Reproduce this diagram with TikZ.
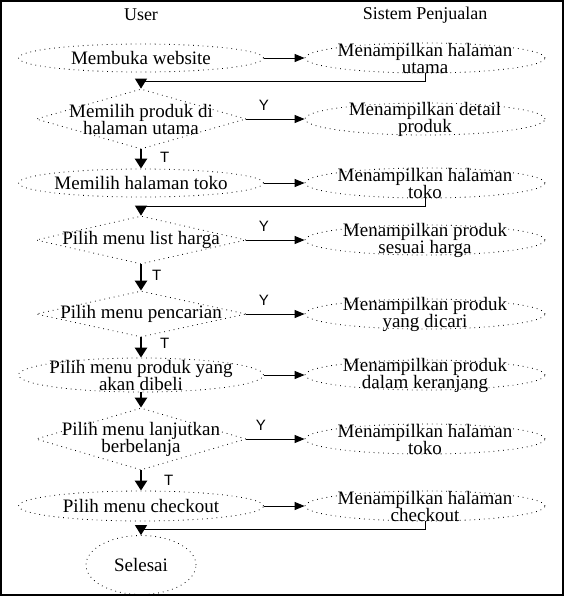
\documentclass[tikz,border=0pt]{standalone}
\usepackage{fontspec}
\setmainfont{Liberation Serif}
\newfontfamily\yesnofont{Liberation Sans}
\usetikzlibrary{shapes.geometric}
\usetikzlibrary{arrows.meta}
\newcommand{\tightlines}{\fontsize{9.5}{8.5}\selectfont\lineskiplimit=-20pt\relax}
\tikzset{txt/.style={font=\tightlines, align=center}}
\tikzset{proc/.style={txt, draw, dotted, ellipse, inner sep=-30pt, minimum width=122.5pt, minimum height=14pt}}
\tikzset{rproc/.style={proc, minimum width=120pt, minimum height=15pt}}
\tikzset{decide/.style={txt, draw, dotted, diamond, inner sep=-30pt, minimum width=105pt, minimum height=24pt}}
\tikzset{term/.style={txt, draw, dotted, ellipse, inner sep=-30pt, minimum width=55pt, minimum height=29.5pt}}
\tikzset{head/.style={font=\fontsize{9}{10}\selectfont}}
\tikzset{lbl/.style={font=\yesnofont\fontsize{7.5}{8}\selectfont, inner sep=1pt}}
\tikzset{hor/.style={line width=0.5pt, -{Triangle[length=5pt, width=4pt]}}}
\tikzset{ver/.style={line width=1.2pt, -{Triangle[length=5pt, width=6pt]}}}
\tikzset{back/.style={line width=0.5pt, -{Triangle[length=5pt, width=6pt]}}}

\begin{document}
\begin{tikzpicture}[x=0.5pt, y=-0.5pt]
    \useasboundingbox (0, 0) rectangle (564, 596);
    \draw [line width=1pt] (1, 1) rectangle (563, 595);

    \node [head] (user) at (141, 15) {User};
    \node [head] (sistem) at (425, 15) {Sistem Penjualan};

    \node [proc] (web) at (141, 58) {Membuka website};
    \node [rproc] (utama) at (425, 58) {Menampilkan halaman\\utama};

    \node [decide, minimum height=30pt] (pilihproduk) at (141, 119) {Memilih produk di\\halaman utama};
    \node [rproc, minimum height=16pt] (detail) at (425, 119) {Menampilkan detail\\produk};

    \node [proc] (toko) at (141, 183) {Memilih halaman toko};
    \node [rproc] (haltoko) at (425, 183) {Menampilkan halaman\\toko};

    \node [decide, minimum height=24pt] (harga) at (141, 240) {Pilih menu list harga};
    \node [rproc] (sesuai) at (425, 240) {Menampilkan produk\\sesuai harga};

    \node [decide, minimum height=23pt] (cari) at (141, 314) {Pilih menu pencarian};
    \node [rproc] (dicari) at (425, 314) {Menampilkan produk\\yang dicari};

    \node [proc, minimum height=17pt] (beli) at (141, 375) {Pilih menu produk yang\\akan dibeli};
    \node [rproc] (keranjang) at (425, 375) {Menampilkan produk\\dalam keranjang};

    \node [decide, minimum height=31pt] (lanjut) at (141, 439) {Pilih menu lanjutkan\\berbelanja};
    \node [rproc] (toko2) at (425, 439) {Menampilkan halaman\\toko};

    \node [proc, minimum height=15pt] (checkout) at (141, 506) {Pilih menu checkout};
    \node [rproc] (halcheckout) at (425, 506) {Menampilkan halaman\\checkout};

    \node [term] (selesai) at (141, 565) {Selesai};

    \draw [hor] (web.east) -- (utama.west);
    \draw [back] (utama.south) -- ++(0, 8) -| (pilihproduk.north);
    \draw [hor] (pilihproduk.east) -- node [lbl, above=3pt, pos=0.3] (y1) {Y} (detail.west);
    \draw [ver] (pilihproduk.south) -- node [lbl, right=8pt, pos=0.4] (t1) {T} (toko.north);

    \draw [hor] (toko.east) -- (haltoko.west);
    \draw [back] (haltoko.south) -- ++(0, 8) -| (harga.north);
    \draw [hor] (harga.east) -- node [lbl, above=3pt, pos=0.3] (y2) {Y} (sesuai.west);
    \draw [ver] (harga.south) -- node [lbl, right=4pt, pos=0.4] (t2) {T} (cari.north);

    \draw [hor] (cari.east) -- node [lbl, above=3pt, pos=0.3] (y3) {Y} (dicari.west);
    \draw [ver] (cari.south) -- node [lbl, right=8pt, pos=0.3] (t3) {T} (beli.north);

    \draw [hor] (beli.east) -- (keranjang.west);
    \draw [ver] (beli.south) -- (lanjut.north);

    \draw [hor] (lanjut.east) -- node [lbl, above=3pt, pos=0.25] (y4) {Y} (toko2.west);
    \draw [ver] (lanjut.south) -- node [lbl, right=10pt, pos=0.5] (t4) {T} (checkout.north);

    \draw [hor] (checkout.east) -- (halcheckout.west);
    \draw [back] (halcheckout.south) -- ++(0, 8) -| (selesai.north);
\end{tikzpicture}
\end{document}
